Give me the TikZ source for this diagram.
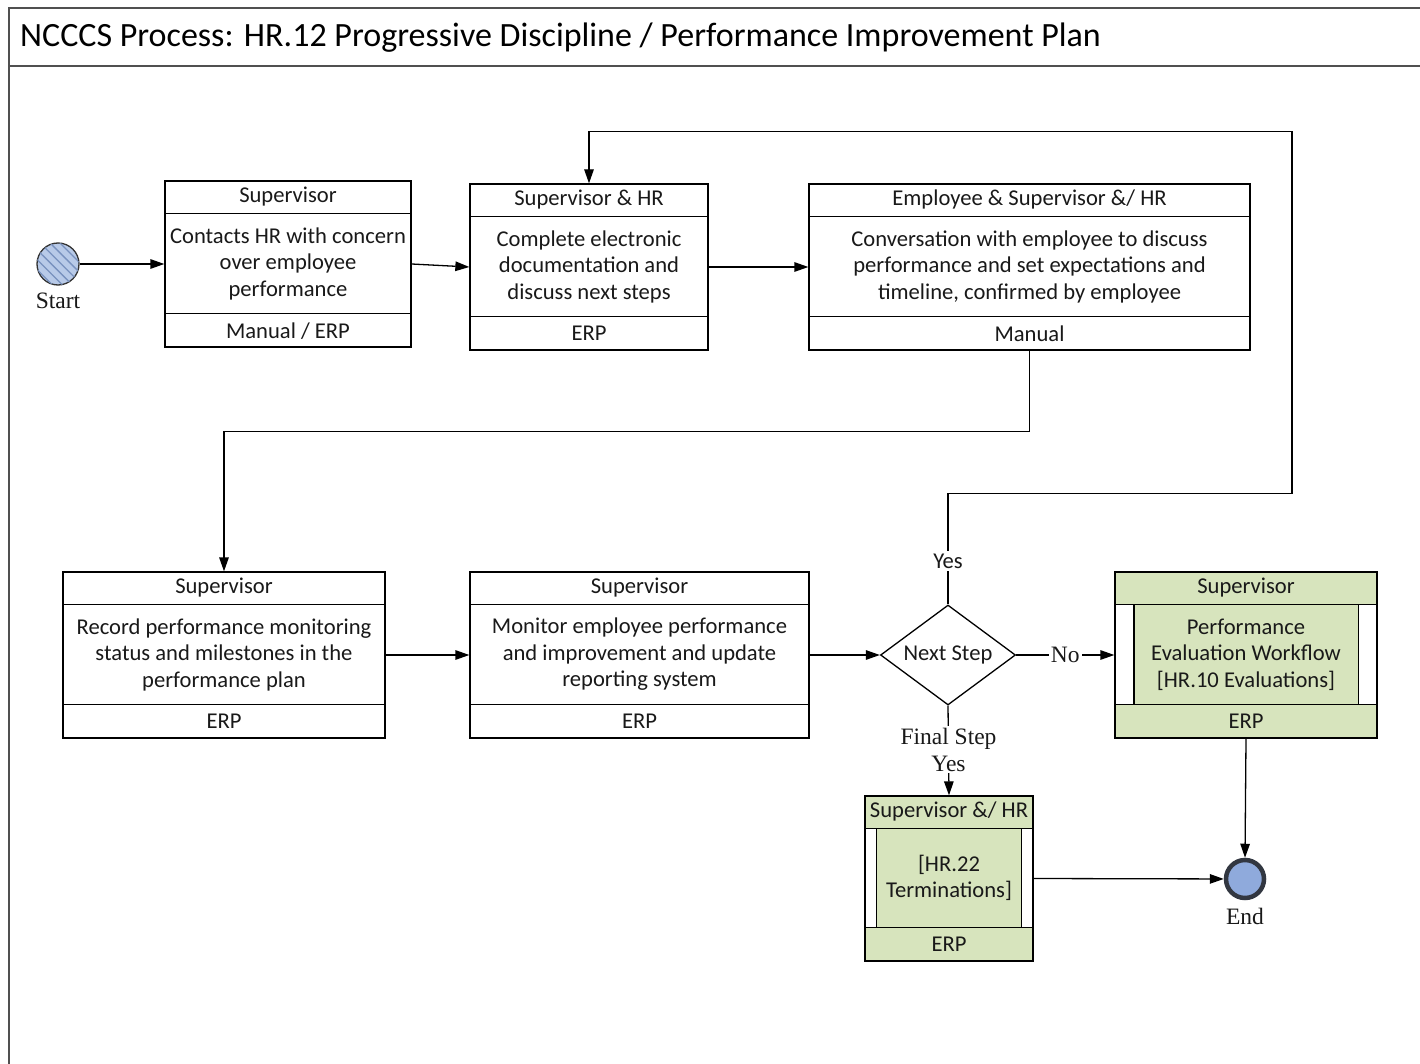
\documentclass[tikz,border=0pt]{standalone}
\usepackage{fontspec}
\setmainfont{Carlito}
\newfontfamily\labelserif{Liberation Serif}
\usetikzlibrary{calc,fit,shapes.geometric,arrows.meta,patterns.meta}

\definecolor{framegray}{RGB}{80,80,80}
\definecolor{inkgray}{RGB}{25,25,25}
\definecolor{subfill}{RGB}{215,228,189}
\definecolor{startfill}{RGB}{184,202,232}
\definecolor{starthatch}{RGB}{120,145,190}
\definecolor{endfill}{RGB}{143,170,220}
\definecolor{endring}{RGB}{50,55,65}

\tikzset{
  x=1pt, y=-1pt,
  frameline/.style={draw=framegray, line width=1.8},
  boxline/.style={draw=black, line width=1.3},
  taskframe/.style={boxline, rectangle, inner sep=0pt},
  txt/.style={font=\fontsize{22.6}{26.5}\selectfont, text=inkgray, align=center, inner sep=0pt},
  serifl/.style={font=\labelserif\fontsize{23.5}{27}\selectfont, text=inkgray, align=center, inner sep=1pt},
  flow/.style={draw=black, line width=1.3, -{Triangle[length=14pt,width=9.5pt]}},
}

% task box: name, west, top, east, bottom, header, body, footer
\newcommand{\taskbox}[8]{%
  \node[taskframe, fit={(#2,#3) (#4,#5)}] (#1) {};
  \draw[boxline] ($(#1.north west)+(0,33)$) -- ($(#1.north east)+(0,33)$);
  \draw[boxline] ($(#1.south west)+(0,-34)$) -- ($(#1.south east)+(0,-34)$);
  \node[txt] (#1-head) at ($(#1.north)+(0,16.5)$) {#6};
  \node[txt] (#1-body) at ($(#1.center)+(0,-0.5)$) {#7};
  \node[txt] (#1-foot) at ($(#1.south)+(0,-17)$) {#8};
}

% sub-process box: name, west, top, east, bottom, side inset, header, body, footer
\newcommand{\subbox}[9]{%
  \fill[subfill] (#2,#3) rectangle (#4,#5);
  \fill[white] (#2,#3+33) rectangle (#2+#6,#5-34);
  \fill[white] (#4-#6,#3+33) rectangle (#4,#5-34);
  \node[taskframe, fit={(#2,#3) (#4,#5)}] (#1) {};
  \draw[boxline] ($(#1.north west)+(0,33)$) -- ($(#1.north east)+(0,33)$);
  \draw[boxline] ($(#1.south west)+(0,-34)$) -- ($(#1.south east)+(0,-34)$);
  \draw[boxline] ($(#1.north west)+(#6,33)$) -- ($(#1.south west)+(#6,-34)$);
  \draw[boxline] ($(#1.north east)+(-#6,33)$) -- ($(#1.south east)+(-#6,-34)$);
  \node[txt] (#1-head) at ($(#1.north)+(0,16.5)$) {#7};
  \node[txt] (#1-body) at ($(#1.center)+(0,-0.5)$) {#8};
  \node[txt] (#1-foot) at ($(#1.south)+(0,-17)$) {#9};
}

\begin{document}
\begin{tikzpicture}
  \path[use as bounding box, clip] (0,0) rectangle (1420,1064);
  \fill[white] (0,0) rectangle (1420,1064);

  % outer frame with title band
  \draw[frameline] (1440,8) -- (9,8) -- (9,1090);
  \draw[frameline] (9,66) -- (1440,66);
  \node[anchor=base west, inner sep=0pt, font=\fontsize{34}{40}\selectfont, text=black] (title) at (20,47)
    {NCCCS Process: HR.12 Progressive Discipline / Performance Improvement Plan};

  % start and end events
  \node[circle, draw=black!80, line width=1.3, minimum size=42pt, inner sep=0pt, fill=startfill,
        postaction={pattern={Lines[angle=-45,distance=7pt,line width=1.3pt]}, pattern color=starthatch}]
        (start) at (58,264) {};
  \node[serifl] (startlbl) at ($(start.south)+(0,15)$) {Start};

  \node[circle, draw=endring, line width=4.5, minimum size=38pt, inner sep=0pt, fill=endfill]
        (end) at (1245,879) {};
  \node[serifl] (endlbl) at ($(end.south)+(0,16)$) {End};

  % upper row
  \taskbox{t1}{165}{181}{411}{347}{Supervisor}{Contacts HR with concern\\over employee\\performance}{Manual / ERP}
  \taskbox{t2}{470}{184}{708}{350}{Supervisor \& HR}{Complete electronic\\documentation and\\discuss next steps}{ERP}
  \taskbox{t3}{809}{184}{1250}{350}{Employee \& Supervisor \&/ HR}{Conversation with employee to discuss\\performance and set expectations and\\timeline, confirmed by employee}{Manual}

  % lower row
  \taskbox{t4}{63}{572}{385}{738}{Supervisor}{Record performance monitoring\\status and milestones in the\\performance plan}{ERP}
  \taskbox{t5}{470}{572}{809}{738}{Supervisor}{Monitor employee performance\\and improvement and update\\reporting system}{ERP}

  % decision
  \node[diamond, boxline, fill=white, minimum width=135pt, minimum height=100pt, aspect=1.35, inner sep=0pt,
        font=\fontsize{22.6}{26.5}\selectfont, text=inkgray] (dec) at (948,655) {Next Step};

  % linked sub-processes
  \subbox{t6}{1115}{572}{1377}{738}{19.5}{Supervisor}{Performance\\Evaluation Workflow\\{[HR.10 Evaluations]}}{ERP}
  \subbox{t7}{865}{796}{1033}{961}{12}{Supervisor \&/ HR}{{[HR.22}\\Terminations]}{ERP}

  % connectors
  \draw[flow] (start) -- (t1);
  \draw[flow] (t1.east) -- (t2.west);
  \draw[flow] (t2) -- (t3);
  \draw[flow] (t3.south) -- ++(0,81) -| (t4.north);
  \draw[flow] (t4) -- (t5);
  \draw[flow] (t5.east) -- (dec.west);
  \draw[flow] (dec.north) -- node[pos=0.39, txt, fill=white, inner sep=3pt] (yesup) {Yes} ++(0,-111)
              -- ++(344,0) -- ++(0,-362) -| (t2.north);
  \draw[flow] (dec.east) -- node[serifl, fill=white, inner sep=2pt] (nolbl) {No} (t6.west);
  \draw[flow] (dec.south) -- node[pos=0.49, serifl, fill=white, inner sep=2pt] (finallbl) {Final Step\\Yes} (t7.north);
  \draw[flow] (t7.east) -- (end);
  \draw[flow] (t6.south) -- (end.north);
\end{tikzpicture}
\end{document}
